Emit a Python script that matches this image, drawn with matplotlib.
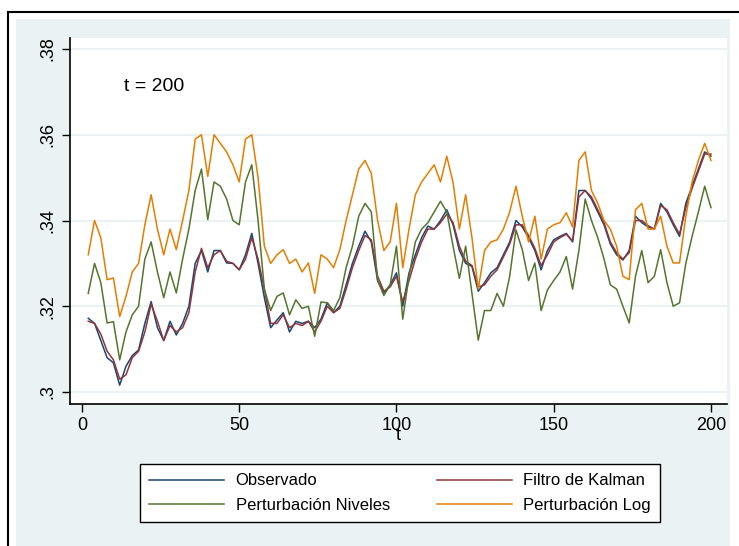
import matplotlib
matplotlib.use("Agg")
import matplotlib.pyplot as plt
from matplotlib.lines import Line2D

# periodo t
t = list(range(2, 201, 2))

observado = [
    .3172, .3160, .3120, .3080, .3068, .3016, .3060, .3085, .3098, .3160,
    .3211, .3150, .3120, .3165, .3133, .3160, .3200, .3300, .3330, .3280,
    .3330, .3330, .3301, .3300, .3285, .3320, .3370, .3300, .3220, .3150,
    .3168, .3185, .3140, .3165, .3160, .3165, .3150, .3170, .3208, .3185,
    .3200, .3250, .3300, .3340, .3375, .3350, .3260, .3231, .3250, .3278,
    .3200, .3278, .3320, .3360, .3387, .3380, .3400, .3425, .3390, .3330,
    .3300, .3293, .3235, .3255, .3278, .3290, .3320, .3350, .3400, .3385,
    .3360, .3330, .3285, .3330, .3355, .3363, .3370, .3350, .3470, .3470,
    .3450, .3420, .3390, .3345, .3320, .3308, .3330, .3410, .3395, .3385,
    .3380, .3440, .3420, .3390, .3363, .3440, .3480, .3520, .3560, .3550,
]

kalman = [
    .3165, .3160, .3135, .3095, .3075, .3030, .3040, .3080, .3095, .3140,
    .3205, .3165, .3120, .3155, .3140, .3150, .3185, .3280, .3335, .3290,
    .3320, .3330, .3305, .3300, .3285, .3310, .3360, .3310, .3240, .3160,
    .3160, .3180, .3150, .3160, .3155, .3165, .3140, .3165, .3200, .3185,
    .3195, .3240, .3290, .3330, .3365, .3355, .3270, .3235, .3245, .3270,
    .3210, .3260, .3310, .3350, .3380, .3380, .3395, .3415, .3395, .3340,
    .3305, .3295, .3245, .3250, .3270, .3285, .3315, .3345, .3390, .3390,
    .3365, .3335, .3295, .3320, .3350, .3360, .3368, .3352, .3455, .3470,
    .3455, .3425, .3395, .3350, .3325, .3310, .3325, .3400, .3400, .3388,
    .3380, .3435, .3425, .3395, .3368, .3430, .3475, .3515, .3555, .3555,
]

pert_niveles = [
    .3230, .3300, .3255, .3161, .3164, .3075, .3140, .3180, .3200, .3310,
    .3350, .3280, .3220, .3280, .3231, .3310, .3380, .3470, .3520, .3402,
    .3490, .3480, .3450, .3400, .3390, .3490, .3530, .3400, .3240, .3190,
    .3223, .3231, .3180, .3215, .3195, .3200, .3130, .3210, .3208, .3190,
    .3220, .3290, .3340, .3410, .3440, .3420, .3260, .3225, .3250, .3340,
    .3170, .3270, .3350, .3380, .3395, .3420, .3445, .3420, .3340, .3265,
    .3340, .3230, .3121, .3190, .3190, .3230, .3200, .3270, .3378, .3332,
    .3260, .3301, .3190, .3238, .3260, .3280, .3316, .3240, .3330, .3450,
    .3400, .3360, .3310, .3250, .3240, .3200, .3161, .3270, .3330, .3255,
    .3270, .3332, .3255, .3200, .3208, .3300, .3363, .3420, .3480, .3430,
]

pert_log = [
    .3320, .3400, .3360, .3262, .3266, .3176, .3223, .3280, .3300, .3390,
    .3460, .3380, .3320, .3380, .3332, .3400, .3470, .3590, .3600, .3503,
    .3600, .3580, .3560, .3530, .3490, .3590, .3600, .3500, .3340, .3300,
    .3320, .3332, .3300, .3310, .3280, .3301, .3230, .3320, .3310, .3290,
    .3332, .3400, .3460, .3520, .3540, .3510, .3400, .3330, .3350, .3440,
    .3290, .3380, .3460, .3490, .3510, .3530, .3490, .3550, .3488, .3380,
    .3460, .3360, .3240, .3330, .3350, .3355, .3380, .3420, .3480, .3410,
    .3350, .3410, .3310, .3380, .3390, .3395, .3418, .3385, .3540, .3560,
    .3470, .3440, .3400, .3380, .3340, .3270, .3262, .3425, .3440, .3380,
    .3380, .3410, .3340, .3301, .3301, .3410, .3490, .3540, .3580, .3540,
]

etiquetas = ["Observado", "Filtro de Kalman", "Perturbación Niveles", "Perturbación Log"]
colores = ["#1A476F", "#90353B", "#55752F", "#E37E00"]

plt.rcParams["font.family"] = ["Liberation Sans", "DejaVu Sans"]

fig = plt.figure(figsize=(7.39, 5.46), dpi=100)
fig.patch.set_facecolor("white")

# fondo estilo Stata (eje sin marcas detras del grafico)
bg = fig.add_axes([16 / 739, 0, 714 / 739, 1 - 19 / 546])
bg.set_facecolor("#EAF2F3")
bg.set_xticks([])
bg.set_yticks([])
for sp in bg.spines.values():
    sp.set_visible(False)
bg.set_zorder(0)

# marco exterior
fig.lines.append(Line2D([8 / 739, 8 / 739], [0, 1 - 12 / 546], transform=fig.transFigure,
                        color="black", lw=1.5))
fig.lines.append(Line2D([8 / 739, 1], [1 - 12 / 546, 1 - 12 / 546], transform=fig.transFigure,
                        color="black", lw=1.5))

ax = fig.add_axes([70 / 739, 1 - 404 / 546, 656.7 / 739, (404 - 38.3) / 546])
ax.set_zorder(1)
ax.set_facecolor("white")

series = [observado, kalman, pert_niveles, pert_log]
lineas = []
for s, lab, c in zip(series, etiquetas, colores):
    ln, = ax.plot(t, s, color=c, lw=1.1, label=lab)
    lineas.append(ln)

ax.set_xlim(-3.8, 205)
ax.set_ylim(0.2972, 0.3825)
ax.set_xticks([0, 50, 100, 150, 200])
ax.set_yticks([0.30, 0.32, 0.34, 0.36, 0.38])
ax.set_yticklabels([".3", ".32", ".34", ".36", ".38"], rotation=90, va="center")
ax.tick_params(axis="both", labelsize=13, length=6, width=1, color="black")
ax.grid(axis="y", color="#EAF2F3", lw=1.5)
ax.set_axisbelow(True)

for side in ["top", "right"]:
    ax.spines[side].set_visible(False)
for side in ["left", "bottom"]:
    ax.spines[side].set_linewidth(1.2)

ax.set_xlabel("t", fontsize=13, labelpad=-5)
ax.text(13.5, 0.3712, "t = 200", fontsize=14, ha="left", va="center")

# orden por filas: Observado / Filtro de Kalman arriba
orden = [0, 2, 1, 3]
leg = fig.legend([lineas[i] for i in orden], [etiquetas[i] for i in orden],
                 loc="center", bbox_to_anchor=(400 / 739, 1 - 493 / 546), ncol=2,
                 fontsize=12, frameon=True, fancybox=False, edgecolor="black",
                 handlelength=4.5, handletextpad=0.7, columnspacing=2.8,
                 labelspacing=0.55, borderpad=0.55, framealpha=1)
leg.get_frame().set_linewidth(1.0)
leg.set_zorder(3)

fig.savefig("out.png", dpi=100, facecolor=fig.get_facecolor())
